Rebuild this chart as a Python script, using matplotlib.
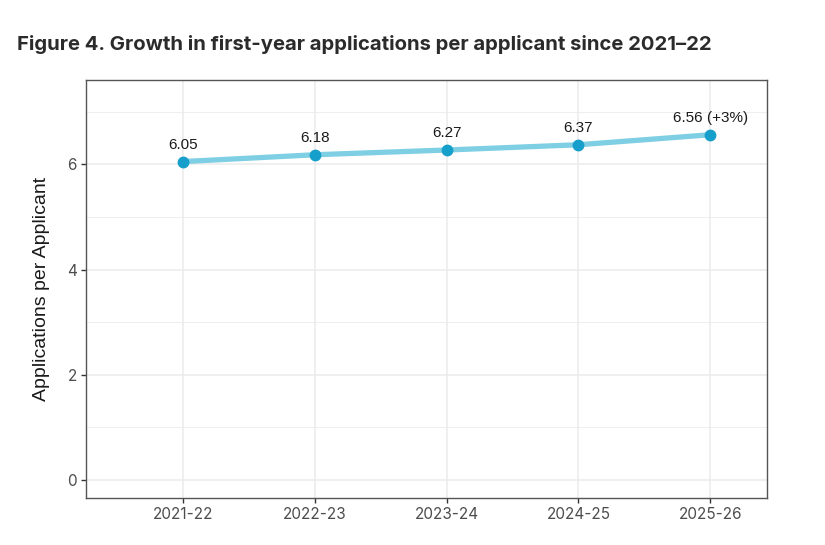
import numpy as np
import matplotlib.pyplot as plt

years = ['2021-22', '2022-23', '2023-24', '2024-25', '2025-26']
apps_per_applicant = [6.05, 6.18, 6.27, 6.37, 6.56]
point_labels = ['6.05', '6.18', '6.27', '6.37', '6.56 (+3%)']

fig = plt.figure(figsize=(8.25, 5.45), dpi=100)
ax = fig.add_axes([86 / 825, 47 / 545, 681 / 825, 418 / 545])

x = np.arange(len(years))
ax.plot(x, apps_per_applicant, color='#7ecfe3', linewidth=3.8,
        solid_capstyle='round', zorder=3)
ax.plot(x, apps_per_applicant, 'o', color='#179fcb', markersize=7.5, zorder=4)
for xi, yi, lab in zip(x, apps_per_applicant, point_labels):
    ax.annotate(lab, (xi, yi), xytext=(0, 7), textcoords='offset points',
                ha='center', va='bottom', fontsize=11, family='Liberation Sans',
                color='#1a1a1a')

ax.set_xlim(-0.736, 4.43)
ax.set_ylim(-0.34, 7.6)
ax.set_xticks(x)
ax.set_xticklabels(years)
ax.set_yticks([0, 2, 4, 6])
ax.set_yticks([1, 3, 5, 7], minor=True)
ax.grid(True, which='major', color='#ebebeb', linewidth=1.1)
ax.grid(True, which='minor', axis='y', color='#ebebeb', linewidth=0.6)
ax.set_axisbelow(True)
ax.tick_params(which='minor', length=0)
ax.tick_params(which='major', length=3.5, width=1, color='#333333',
               labelcolor='#4d4d4d', labelsize=11, pad=3)
for lab in ax.get_xticklabels() + ax.get_yticklabels():
    lab.set_family('Inter')
for s in ax.spines.values():
    s.set_color('#555555')
    s.set_linewidth(1)

ax.set_ylabel('Applications per Applicant', fontsize=14, family='Liberation Sans',
              color='#1a1a1a', labelpad=12)

fig.text(17 / 825, 1 - 45 / 545, 'Figure 4. Growth in first-year applications per applicant since 2021\u201322',
         fontsize=14.6, fontweight='bold', family='Inter', color='#2b2b2b',
         va='center', ha='left')

fig.savefig('out.png', dpi=100)
